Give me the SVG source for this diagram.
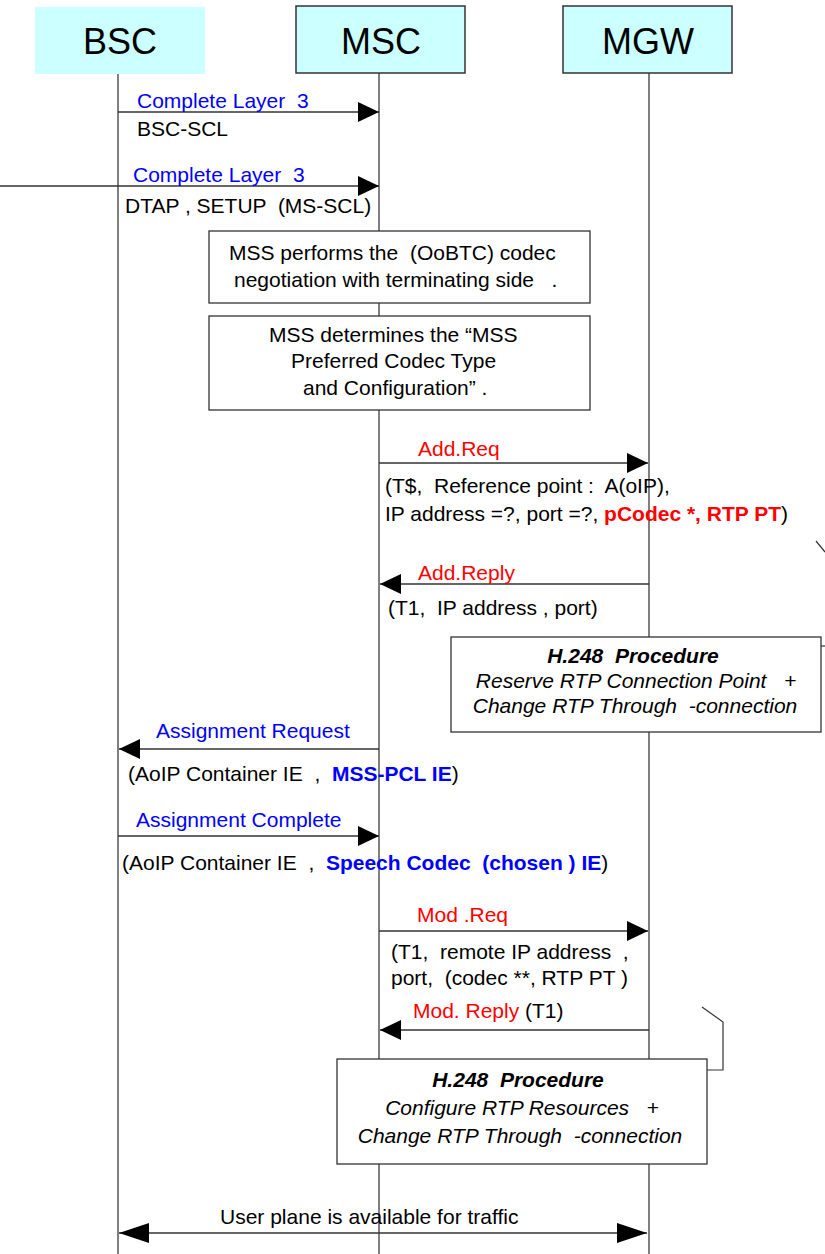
<svg xmlns="http://www.w3.org/2000/svg" width="825" height="1254" viewBox="0 0 825 1254">
<style>
text{font-family:"Liberation Sans",Arial,sans-serif;font-size:21px;fill:#000;white-space:pre}
.hd{font-size:36px}
.blue{fill:#0000ff}
.red{fill:#ff0000}
.bb{fill:#0000ff;font-weight:bold}
.rb{fill:#ff0000;font-weight:bold}
.bi{font-weight:bold;font-style:italic}
.it{font-style:italic}
.hbox{fill:#ccffff}
.hboxs{fill:#ccffff;stroke:#333;stroke-width:1.5}
.note{fill:#fff;stroke:#333;stroke-width:1.3}
.life{stroke:#808080;stroke-width:2;fill:none}
.lifeb{stroke:#555;stroke-width:1.5;fill:none}
.msg{stroke:#333;stroke-width:1.5;fill:none}
.thin{stroke:#333;stroke-width:1.2;fill:none}
</style>
<defs>
<marker id="ah" viewBox="0 0 21 20" markerWidth="21" markerHeight="20" refX="21" refY="10" orient="auto" markerUnits="userSpaceOnUse">
<path d="M0,0 L21,10 L0,20 z" fill="#000"/>
</marker>
<marker id="ahw" viewBox="0 0 30 20" markerWidth="30" markerHeight="20" refX="30" refY="10" orient="auto-start-reverse" markerUnits="userSpaceOnUse">
<path d="M0,0 L30,10 L0,20 z" fill="#000"/>
</marker>
</defs>
<rect width="825" height="1254" fill="#fff"/>

<g id="lifelines">
<line class="lifeb" x1="118" y1="74" x2="118" y2="1254"/>
<line class="life" x1="379" y1="73" x2="379" y2="1254"/>
<line class="life" x1="649" y1="73" x2="649" y2="1254"/>
</g>

<g id="bsc">
<rect class="hbox" x="35" y="7" width="170" height="67"/>
<text class="hd" x="120" y="54" text-anchor="middle">BSC</text>
</g>
<g id="msc">
<rect class="hboxs" x="296" y="6" width="169" height="67"/>
<text class="hd" x="381" y="54" text-anchor="middle">MSC</text>
</g>
<g id="mgw">
<rect class="hboxs" x="563" y="6" width="169" height="67"/>
<text class="hd" x="648" y="54" text-anchor="middle">MGW</text>
</g>

<g id="note-oobtc">
<rect class="note" x="209" y="231" width="381" height="72"/>
<text x="229" y="260">MSS performs the  (OoBTC) codec</text>
<text x="234" y="287">negotiation with terminating side   .</text>
</g>
<g id="note-preferred">
<rect class="note" x="209" y="316" width="381" height="94"/>
<text x="269" y="342">MSS determines the “MSS</text>
<text x="291" y="368">Preferred Codec Type</text>
<text x="303" y="395">and Configuration” .</text>
</g>

<g id="h248-reserve">
<rect class="note" x="451" y="637" width="370" height="95"/>
<text class="bi" x="633" y="663" text-anchor="middle">H.248  Procedure</text>
<text class="it" x="636" y="688" text-anchor="middle">Reserve RTP Connection Point   +</text>
<text class="it" x="635" y="713" text-anchor="middle">Change RTP Through  -connection</text>
</g>
<g id="h248-configure">
<rect class="note" x="337" y="1059" width="370" height="105"/>
<text class="bi" x="518" y="1087" text-anchor="middle">H.248  Procedure</text>
<text class="it" x="522" y="1115" text-anchor="middle">Configure RTP Resources   +</text>
<text class="it" x="520" y="1143" text-anchor="middle">Change RTP Through  -connection</text>
</g>

<g id="connectors">
<line class="msg" x1="118" y1="112" x2="379" y2="112" marker-end="url(#ah)"/>
<line class="msg" x1="0" y1="186" x2="379" y2="186" marker-end="url(#ah)"/>
<line class="msg" x1="379" y1="463" x2="648" y2="463" marker-end="url(#ah)"/>
<line class="msg" x1="649" y1="584" x2="380" y2="584" marker-end="url(#ah)"/>
<line class="msg" x1="379" y1="749" x2="119" y2="749" marker-end="url(#ah)"/>
<line class="msg" x1="118" y1="836" x2="379" y2="836" marker-end="url(#ah)"/>
<line class="msg" x1="379" y1="931" x2="648" y2="931" marker-end="url(#ah)"/>
<line class="msg" x1="649" y1="1030" x2="380" y2="1030" marker-end="url(#ah)"/>
<line class="msg" x1="119" y1="1233" x2="647" y2="1233" marker-start="url(#ahw)" marker-end="url(#ahw)"/>
<polyline class="thin" points="702,1007 723,1022 723,1070 707,1070"/>
<line class="thin" x1="816" y1="541" x2="825" y2="552"/>
<line class="thin" x1="821" y1="646" x2="825" y2="646"/>
</g>

<g id="labels">
<text class="blue" x="137" y="108">Complete Layer  3</text>
<text x="137" y="136">BSC-SCL</text>
<text class="blue" x="133" y="182">Complete Layer  3</text>
<text x="125" y="213">DTAP , SETUP  (MS-SCL)</text>
<text class="red" x="418" y="456">Add.Req</text>
<text x="385" y="493">(T$,  Reference point :  A(oIP),</text>
<text x="385" y="521">IP address =?, port =?, <tspan class="rb">pCodec *, RTP PT</tspan>)</text>
<text class="red" x="418" y="580">Add.Reply</text>
<text x="388" y="615">(T1,  IP address , port)</text>
<text class="blue" x="156" y="738">Assignment Request</text>
<text x="128" y="781">(AoIP Container IE  ,  <tspan class="bb">MSS-PCL IE</tspan>)</text>
<text class="blue" x="136" y="827">Assignment Complete</text>
<text x="122" y="870">(AoIP Container IE  ,  <tspan class="bb">Speech Codec  (chosen ) IE</tspan>)</text>
<text class="red" x="417" y="922">Mod .Req</text>
<text x="391" y="959">(T1,  remote IP address  ,</text>
<text x="391" y="985">port,  (codec **, RTP PT )</text>
<text x="413" y="1018"><tspan class="red">Mod. Reply</tspan> (T1)</text>
<text x="220" y="1224">User plane is available for traffic</text>
</g>
</svg>
